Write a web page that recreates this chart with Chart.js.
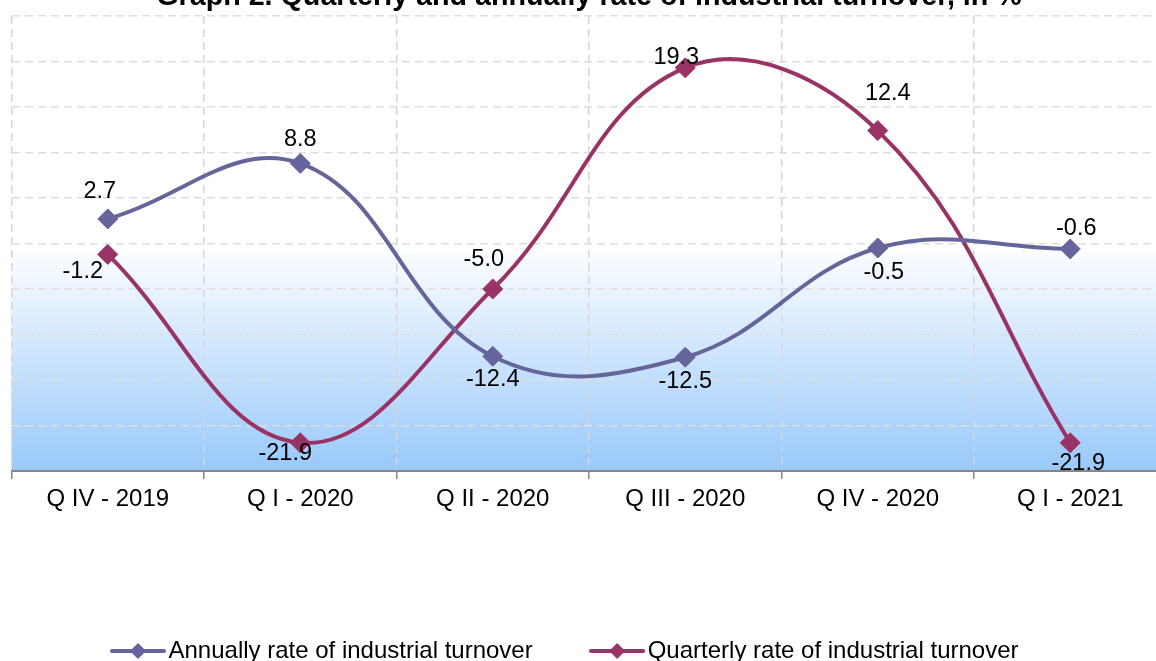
<!DOCTYPE html>
<html>
<head>
<meta charset="utf-8">
<title>Graph 2. Quarterly and annually rate of industrial turnover</title>
<script src="https://cdn.jsdelivr.net/npm/chart.js@4.4.1/dist/chart.umd.min.js"></script>
<style>
  html, body { margin: 0; padding: 0; background: #fff; overflow: hidden; }
  #wrap { position: absolute; left: 0; top: -30px; }
</style>
</head>
<body>
<div id="wrap"><canvas id="turnover" width="1180" height="703"></canvas></div>
<script>
// quarters and rates of industrial turnover, in %
const quarters = ['Q IV - 2019', 'Q I - 2020', 'Q II - 2020', 'Q III - 2020', 'Q IV - 2020', 'Q I - 2021'];
const annualRate = [2.7, 8.8, -12.4, -12.5, -0.5, -0.6];
const quarterlyRate = [-1.2, -21.9, -5.0, 19.3, 12.4, -21.9];
const yMin = -25, yMax = 25, yStep = 5;

// where each value label sits relative to its marker (px)
const annualLabelShift = [[-8, -27], [0, -24], [0, 23], [0, 24], [6, 24], [6, -20]];
const quarterlyLabelShift = [[-25, 17], [-15, 11], [-9, -29], [-9, -10], [10, -37], [8, 21]];

const FONT = 'Arial, "Liberation Sans", sans-serif';
const annualColor = '#65659b';
const quarterlyColor = '#993366';

// light blue band below zero
const belowZeroFill = {
  id: 'belowZeroFill',
  beforeDraw(chart) {
    const { ctx, chartArea: { left, right, bottom }, scales: { y } } = chart;
    const top = y.getPixelForValue(0);
    const g = ctx.createLinearGradient(0, top, 0, bottom);
    g.addColorStop(0, '#ffffff');
    g.addColorStop(1, '#99c9fb');
    ctx.save();
    ctx.fillStyle = g;
    ctx.fillRect(left, top, right - left, bottom - top);
    ctx.restore();
  }
};

// value labels next to every marker
const valueLabels = {
  id: 'valueLabels',
  afterDatasetsDraw(chart) {
    const ctx = chart.ctx;
    ctx.save();
    ctx.font = '23.5px ' + FONT;
    ctx.fillStyle = '#000';
    ctx.textAlign = 'center';
    ctx.textBaseline = 'middle';
    chart.data.datasets.forEach(function(ds, i) {
      chart.getDatasetMeta(i).data.forEach(function(pt, j) {
        const s = ds.labelShift[j];
        ctx.fillText(ds.data[j].toFixed(1), pt.x + s[0], pt.y + s[1]);
      });
    });
    ctx.restore();
  }
};

// legend sits a little left of centre in the original
const legendNudge = {
  id: 'legendNudge',
  afterLayout(chart) {
    chart.legend.left -= 20;
    chart.legend.right -= 20;
  }
};

// line + diamond sample for the legend
function legendMark(color) {
  const c = document.createElement('canvas');
  c.width = 56; c.height = 20;
  const g = c.getContext('2d');
  g.strokeStyle = color;
  g.lineWidth = 4;
  g.lineCap = 'round';
  g.beginPath(); g.moveTo(2, 10); g.lineTo(54, 10); g.stroke();
  g.fillStyle = color;
  g.beginPath();
  g.moveTo(28, 2); g.lineTo(36, 10); g.lineTo(28, 18); g.lineTo(20, 10);
  g.closePath(); g.fill();
  return c;
}
const legendMarks = [legendMark(annualColor), legendMark(quarterlyColor)];

new Chart(document.getElementById('turnover'), {
  type: 'line',
  data: {
    labels: quarters,
    datasets: [{
      label: 'Annually rate of industrial turnover',
      data: annualRate,
      labelShift: annualLabelShift,
      borderColor: annualColor,
      backgroundColor: annualColor,
      borderWidth: 4,
      tension: 0.4,
      pointStyle: 'rectRot',
      pointRadius: 10,
      pointBorderWidth: 1
    }, {
      label: 'Quarterly rate of industrial turnover',
      data: quarterlyRate,
      labelShift: quarterlyLabelShift,
      borderColor: quarterlyColor,
      backgroundColor: quarterlyColor,
      borderWidth: 4,
      tension: 0.4,
      pointStyle: 'rectRot',
      pointRadius: 10,
      pointBorderWidth: 1
    }]
  },
  options: {
    responsive: false,
    animation: false,
    layout: { padding: { left: 11.5, right: 13.5, top: 0, bottom: 0 } },
    scales: {
      x: {
        offset: true,
        grid: {
          offset: true,
          color: '#d6d6d6',
          lineWidth: 1.5,
          tickLength: 8,
          tickColor: '#868686',
          tickWidth: 1.5
        },
        border: { display: true, color: '#868686', width: 2, dash: [8, 5] },
        ticks: { color: '#000', font: { size: 24, family: FONT }, padding: 6, maxRotation: 0 },
        afterFit(scale) { scale.height = 102; }
      },
      y: {
        min: yMin,
        max: yMax,
        ticks: { stepSize: yStep, display: false },
        grid: { color: '#dedede', lineWidth: 1.5, drawTicks: false },
        border: { display: false, dash: [8, 5] }
      }
    },
    plugins: {
      title: {
        display: true,
        text: 'Graph 2. Quarterly and annually rate of industrial turnover, in %',
        color: '#000',
        font: { size: 28.7, weight: 'bold', family: FONT },
        padding: { top: 10, bottom: 1.5 }
      },
      legend: {
        position: 'bottom',
        labels: {
          usePointStyle: true,
          pointStyleWidth: 37,
          padding: 66,
          color: '#000',
          font: { size: 24, family: FONT },
          generateLabels(chart) {
            const items = Chart.defaults.plugins.legend.labels.generateLabels(chart);
            items.forEach(function(it, i) { it.pointStyle = legendMarks[i]; });
            return items;
          }
        }
      },
      tooltip: { enabled: false }
    }
  },
  plugins: [belowZeroFill, valueLabels, legendNudge]
});
</script>
</body>
</html>
